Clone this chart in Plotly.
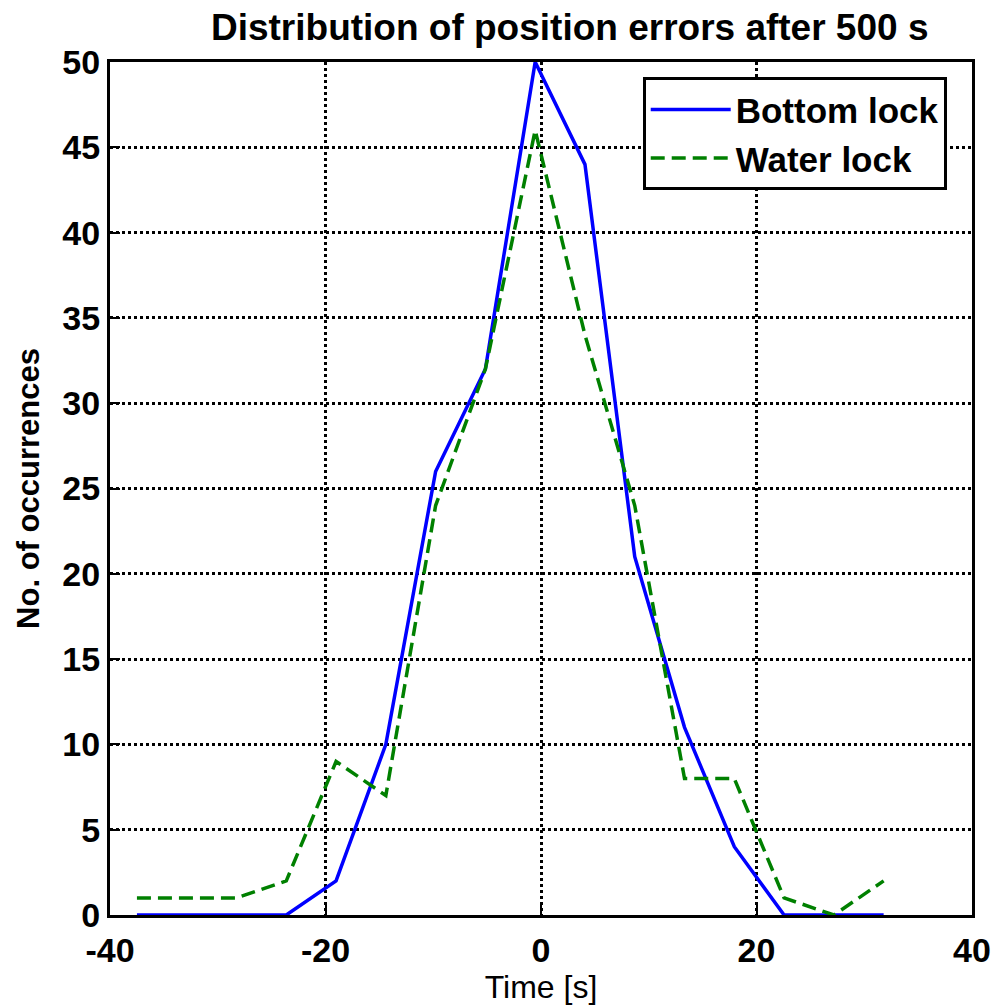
import plotly.graph_objects as go

bin_centers = [-37.5, -32.88, -28.26, -23.64, -19.02, -14.4, -9.78, -5.16,
               -0.54, 4.08, 8.7, 13.32, 17.94, 22.56, 27.18, 31.8]
bottom_lock = [0, 0, 0, 0, 2, 10, 26, 32, 50, 44, 21, 11, 4, 0, 0, 0]
water_lock = [1, 1, 1, 2, 9, 7, 24, 32, 46, 34, 24, 8, 8, 1, 0, 2]

x_ticks = [-40, -20, 0, 20, 40]
y_ticks = [0, 5, 10, 15, 20, 25, 30, 35, 40, 45, 50]

FAM = "Liberation Sans, Arial, sans-serif"

fig = go.Figure()
fig.add_trace(go.Scatter(x=bin_centers, y=bottom_lock, mode="lines",
                         name="<b>Bottom lock</b>",
                         line=dict(color="#0000ff", width=3.5)))
fig.add_trace(go.Scatter(x=bin_centers, y=water_lock, mode="lines",
                         name="<b>Water lock</b>",
                         line=dict(color="#008000", width=3.5, dash="14px,7px")))

font_tick = dict(family=FAM, size=34, color="black")

fig.update_layout(
    width=996, height=1006,
    margin=dict(l=110, r=24, t=62, b=91, autoexpand=False),
    paper_bgcolor="white", plot_bgcolor="white",
    title=dict(text="<b>Distribution of position errors after 500 s</b>",
               x=0.572, xanchor="center", y=0.973, yanchor="middle",
               font=dict(family=FAM, size=37, color="black")),
    showlegend=True,
    legend=dict(x=0.618, y=0.982, xanchor="left", yanchor="top",
                bgcolor="white", bordercolor="black", borderwidth=3,
                font=dict(family=FAM, size=35, color="black"),
                itemwidth=80, tracegroupgap=0),
    xaxis=dict(range=[-40, 40], tickvals=x_ticks,
               ticktext=[f"<b>{v}</b>" for v in x_ticks],
               tickfont=font_tick, automargin=False, ticklabelstandoff=3,
               showgrid=True, gridcolor="black", gridwidth=3, griddash="dot",
               showline=True, linecolor="black", linewidth=3, mirror=True,
               ticks="inside", ticklen=10, tickwidth=2, tickcolor="black",
               zeroline=False,
               title=dict(text="Time [s]", standoff=0,
                          font=dict(family=FAM, size=32, color="black"))),
    yaxis=dict(range=[0, 50], tickvals=y_ticks,
               ticktext=[f"<b>{v}</b>" for v in y_ticks],
               tickfont=font_tick, automargin=False,
               showgrid=True, gridcolor="black", gridwidth=3, griddash="dot",
               showline=True, linecolor="black", linewidth=3, mirror=True,
               ticks="inside", ticklen=10, tickwidth=2, tickcolor="black",
               zeroline=False,
               title=dict(text="<b>No. of occurrences</b>", standoff=14,
                          font=dict(family=FAM, size=31, color="black"))),
)

fig.write_html("out.html", config={"displayModeBar": False},
               post_script="document.body.style.margin='0';document.body.style.overflow='hidden';")
